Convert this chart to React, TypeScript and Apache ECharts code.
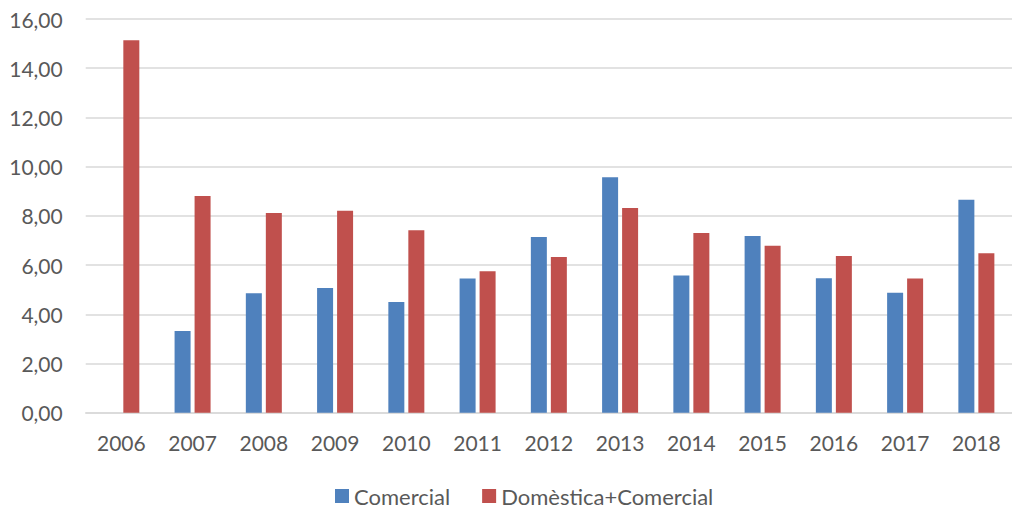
import React, { useEffect, useRef } from "react";
import * as echarts from "echarts";

const years = ["2006", "2007", "2008", "2009", "2010", "2011", "2012", "2013", "2014", "2015", "2016", "2017", "2018"];
const comercial = [null, 3.32, 4.85, 5.07, 4.5, 5.45, 7.14, 9.57, 5.58, 7.18, 5.46, 4.87, 8.65];
const domesticaComercial = [15.14, 8.81, 8.12, 8.21, 7.41, 5.75, 6.33, 8.32, 7.3, 6.78, 6.37, 5.45, 6.48];
const seriesNames = ["Comercial", "Domèstica+Comercial"];

const FONT = "Lato";
const TEXT = "#595959";

export default function App() {
  const ref = useRef<HTMLDivElement>(null);
  useEffect(() => {
    if (!ref.current) return;
    const chart = echarts.init(ref.current, null, { renderer: "svg" });
    chart.setOption({
      animation: false,
      backgroundColor: "#ffffff",
      textStyle: { fontFamily: FONT },
      grid: { left: 85.7, right: -8.5, top: 19, bottom: 96.3, containLabel: false },
      legend: {
        left: 335,
        top: 485,
        padding: 0,
        itemWidth: 14,
        itemHeight: 14,
        itemGap: 32,
        icon: "rect",
        textStyle: { color: TEXT, fontSize: 22, fontFamily: FONT },
        data: seriesNames,
      },
      xAxis: {
        type: "category",
        data: years,
        axisLine: { lineStyle: { color: "#d9d9d9", width: 1.5 } },
        axisTick: { show: false },
        axisLabel: { color: TEXT, fontSize: 21, fontFamily: FONT, margin: 19 },
      },
      yAxis: {
        type: "value",
        min: 0,
        max: 16,
        interval: 2,
        axisLine: { show: false },
        axisTick: { show: false },
        splitLine: { lineStyle: { color: "#d9d9d9", width: 1.5 } },
        axisLabel: {
          color: TEXT,
          fontSize: 21,
          fontFamily: FONT,
          margin: 23,
          formatter: (v: number) => v.toFixed(2).replace(".", ","),
        },
      },
      series: [
        {
          name: seriesNames[0],
          type: "bar",
          data: comercial,
          barWidth: 16,
          barGap: "25%",
          itemStyle: { color: "#4f81bd" },
        },
        {
          name: seriesNames[1],
          type: "bar",
          data: domesticaComercial,
          barWidth: 16,
          barGap: "25%",
          itemStyle: { color: "#c0504d" },
        },
      ],
    });
    return () => chart.dispose();
  }, []);
  return (
    <div
      ref={ref}
      style={{ position: "fixed", left: 0, top: 0, width: 1012, height: 509 }}
    />
  );
}
